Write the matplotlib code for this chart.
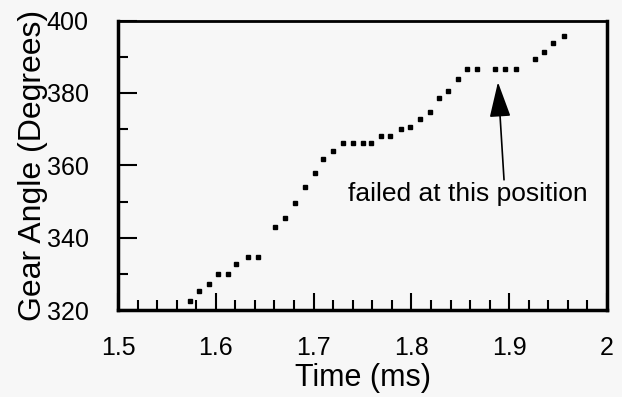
import matplotlib
matplotlib.use("Agg")
import matplotlib.pyplot as plt
from matplotlib.ticker import MultipleLocator, FuncFormatter

time_ms = [1.574, 1.583, 1.593, 1.602, 1.612, 1.621, 1.633, 1.643, 1.661, 1.671,
           1.681, 1.691, 1.701, 1.710, 1.720, 1.730, 1.740, 1.750, 1.759, 1.769,
           1.778, 1.789, 1.799, 1.809, 1.819, 1.828, 1.837, 1.848, 1.857, 1.867,
           1.885, 1.896, 1.907, 1.926, 1.936, 1.945, 1.956]
angle_deg = [322.5, 325.3, 327.1, 330.0, 330.0, 332.6, 334.6, 334.6, 343.0, 345.5,
             349.7, 353.9, 357.8, 361.8, 364.0, 366.3, 366.3, 366.3, 366.3, 368.2,
             368.2, 370.1, 370.6, 372.7, 374.7, 378.6, 380.6, 383.9, 386.6, 386.6,
             386.6, 386.6, 386.6, 389.3, 391.3, 393.9, 395.8]
x_ticks = [1.5, 1.6, 1.7, 1.8, 1.9, 2.0]
y_ticks = [320, 340, 360, 380, 400]
note_text = "failed at this position"
note_xy = (1.858, 352.1)
arrow_tip = (1.8885, 383.0)
arrow_tail = (1.8947, 356.0)

BG = "#f7f7f7"
plt.rcParams["font.family"] = ["Liberation Sans", "DejaVu Sans"]

fig = plt.figure(figsize=(6.22, 3.97), dpi=100, facecolor=BG)
ax = fig.add_axes([0.1897, 0.219, 0.7862, 0.729], facecolor=BG)
ax.plot(time_ms, angle_deg, linestyle="none", marker="s", markersize=3.4, color="black")
ax.set_xlim(1.5, 2.0)
ax.set_ylim(320, 400)
ax.set_xticks(x_ticks)
ax.set_yticks(y_ticks)
ax.xaxis.set_minor_locator(MultipleLocator(0.02))
ax.yaxis.set_minor_locator(MultipleLocator(10))
ax.xaxis.set_major_formatter(FuncFormatter(lambda v, p: f"{v:g}"))
ax.tick_params(which="both", direction="in", width=1.5, labelsize=18, top=False, right=False)
ax.tick_params(axis="x", which="major", length=12, pad=19)
ax.tick_params(axis="y", which="major", length=14, pad=21)
ax.tick_params(which="minor", length=7)
for s in ax.spines.values():
    s.set_linewidth(2.5)
ax.spines["top"].set_linewidth(2)
ax.set_xlabel("Time (ms)", fontsize=22, labelpad=2)
ax.set_ylabel("Gear Angle (Degrees)", fontsize=23, labelpad=-1)

ax.text(note_xy[0], note_xy[1], note_text, fontsize=19, ha="center", va="center")
ax.annotate("", xy=arrow_tip, xytext=arrow_tail,
            arrowprops=dict(arrowstyle="-|>,head_length=1.1,head_width=0.33",
                            mutation_scale=20, color="black", lw=1.2, shrinkA=0, shrinkB=0))

fig.savefig("out.png", dpi=100, facecolor=BG)
